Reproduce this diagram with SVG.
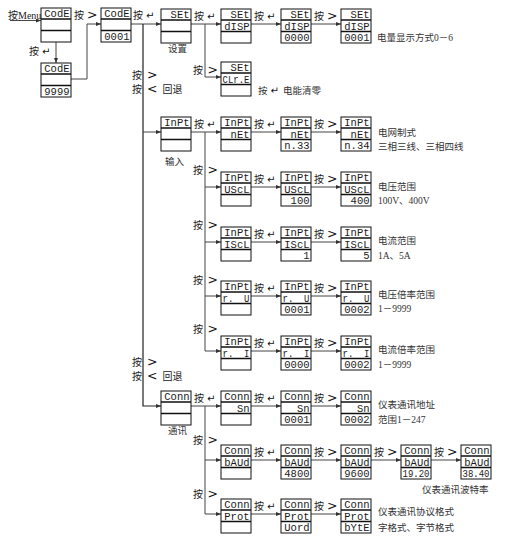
<svg xmlns="http://www.w3.org/2000/svg" width="522" height="538" viewBox="0 0 522 538">
<style>
.box{fill:#fff;stroke:#111;stroke-width:1}
.dv{fill:none;stroke:#111;stroke-width:1.3}
.seg{font-family:"Liberation Mono","DejaVu Sans Mono",monospace;font-size:10.5px;fill:#1a1a1a;text-anchor:end}
.lb{font-family:"Liberation Serif","Noto Sans CJK SC",serif;font-size:10px;fill:#222}
.nt{font-family:"Liberation Serif","Noto Sans CJK SC",serif;font-size:9.5px;fill:#333}
.gt{font-family:"DejaVu Sans",sans-serif;font-size:12.5px;fill:#111}
.ret{font-family:"DejaVu Sans",sans-serif;font-size:10px;fill:#111}
.cn{fill:none;stroke:#444;stroke-width:1}
.tr{fill:none;stroke:#222;stroke-width:1.2}
</style>
<defs>
<marker id="ah" markerWidth="5" markerHeight="4" refX="5" refY="2" orient="auto" markerUnits="userSpaceOnUse"><path d="M0,0 L5,2 L0,4 z" fill="#333"/></marker>
</defs>

<g id="connectors">
<path class="cn" d="M10 20.5H41" marker-end="url(#ah)"/>
<path class="cn" d="M56 42V63" marker-end="url(#ah)"/>
<path class="cn" d="M71 79H87V24H101" marker-end="url(#ah)"/>
<path class="cn" d="M131 24H161" marker-end="url(#ah)"/>
<path class="tr" d="M143 24V406H161" marker-end="url(#ah)"/>
<path class="cn" d="M143 132H161" marker-end="url(#ah)"/>
<path class="cn" d="M191 24H221" marker-end="url(#ah)"/>
<path class="cn" d="M251 24H281" marker-end="url(#ah)"/>
<path class="cn" d="M311 24H341" marker-end="url(#ah)"/>
<path class="cn" d="M205 24V77H221" marker-end="url(#ah)"/>
<path class="cn" d="M191 132H221" marker-end="url(#ah)"/>
<path class="cn" d="M251 132H281" marker-end="url(#ah)"/>
<path class="cn" d="M311 132H341" marker-end="url(#ah)"/>
<path class="cn" d="M205 132V351H221" marker-end="url(#ah)"/>
<path class="cn" d="M205 187H221" marker-end="url(#ah)"/>
<path class="cn" d="M205 242H221" marker-end="url(#ah)"/>
<path class="cn" d="M205 296H221" marker-end="url(#ah)"/>
<path class="cn" d="M251 187H281" marker-end="url(#ah)"/>
<path class="cn" d="M311 187H341" marker-end="url(#ah)"/>
<path class="cn" d="M251 242H281" marker-end="url(#ah)"/>
<path class="cn" d="M311 242H341" marker-end="url(#ah)"/>
<path class="cn" d="M251 296H281" marker-end="url(#ah)"/>
<path class="cn" d="M311 296H341" marker-end="url(#ah)"/>
<path class="cn" d="M251 351H281" marker-end="url(#ah)"/>
<path class="cn" d="M311 351H341" marker-end="url(#ah)"/>
<path class="cn" d="M191 406H221" marker-end="url(#ah)"/>
<path class="cn" d="M205 406V514H221" marker-end="url(#ah)"/>
<path class="cn" d="M205 460H221" marker-end="url(#ah)"/>
<path class="cn" d="M251 406H281" marker-end="url(#ah)"/>
<path class="cn" d="M311 406H341" marker-end="url(#ah)"/>
<path class="cn" d="M251 460H281" marker-end="url(#ah)"/>
<path class="cn" d="M311 460H341" marker-end="url(#ah)"/>
<path class="cn" d="M371 460H401" marker-end="url(#ah)"/>
<path class="cn" d="M431 460H461" marker-end="url(#ah)"/>
<path class="cn" d="M251 514H281" marker-end="url(#ah)"/>
<path class="cn" d="M311 514H341" marker-end="url(#ah)"/>
</g>

<g id="labels">
<text class="lb" x="8" y="18.5">按Menu</text>
<text class="lb" x="74" y="19">按<tspan class="gt" dx="3">&gt;</tspan></text>
<text class="lb" x="133" y="19">按<tspan class="ret" dx="3">↵</tspan></text>
<text class="lb" x="29" y="55">按<tspan class="ret" dx="3">↵</tspan></text>
<text class="lb" x="132" y="79">按<tspan class="gt" dx="5">&gt;</tspan></text>
<text class="lb" x="132" y="93">按<tspan class="gt" dx="5">&lt;</tspan><tspan dx="5">回退</tspan></text>
<text class="lb" x="132" y="366">按<tspan class="gt" dx="5">&gt;</tspan></text>
<text class="lb" x="132" y="380">按<tspan class="gt" dx="5">&lt;</tspan><tspan dx="5">回退</tspan></text>
<text class="lb" x="194" y="19.5">按<tspan class="ret" dx="3">↵</tspan></text>
<text class="lb" x="254" y="19.5">按<tspan class="ret" dx="3">↵</tspan></text>
<text class="lb" x="314" y="19.5">按<tspan class="gt" dx="3">&gt;</tspan></text>
<text class="lb" x="193" y="74">按<tspan class="gt" dx="4.5">&gt;</tspan></text>
<text class="lb" x="194" y="128">按<tspan class="ret" dx="3">↵</tspan></text>
<text class="lb" x="254" y="128">按<tspan class="ret" dx="3">↵</tspan></text>
<text class="lb" x="314" y="128">按<tspan class="gt" dx="3">&gt;</tspan></text>
<text class="lb" x="193" y="174">按<tspan class="gt" dx="4.5">&gt;</tspan></text>
<text class="lb" x="254" y="183">按<tspan class="ret" dx="3">↵</tspan></text>
<text class="lb" x="314" y="183">按<tspan class="gt" dx="3">&gt;</tspan></text>
<text class="lb" x="193" y="229">按<tspan class="gt" dx="4.5">&gt;</tspan></text>
<text class="lb" x="254" y="238">按<tspan class="ret" dx="3">↵</tspan></text>
<text class="lb" x="314" y="238">按<tspan class="gt" dx="3">&gt;</tspan></text>
<text class="lb" x="193" y="284">按<tspan class="gt" dx="4.5">&gt;</tspan></text>
<text class="lb" x="254" y="292">按<tspan class="ret" dx="3">↵</tspan></text>
<text class="lb" x="314" y="292">按<tspan class="gt" dx="3">&gt;</tspan></text>
<text class="lb" x="193" y="333">按<tspan class="gt" dx="4.5">&gt;</tspan></text>
<text class="lb" x="254" y="347">按<tspan class="ret" dx="3">↵</tspan></text>
<text class="lb" x="314" y="347">按<tspan class="gt" dx="3">&gt;</tspan></text>
<text class="lb" x="194" y="402">按<tspan class="ret" dx="3">↵</tspan></text>
<text class="lb" x="254" y="402">按<tspan class="ret" dx="3">↵</tspan></text>
<text class="lb" x="314" y="402">按<tspan class="gt" dx="3">&gt;</tspan></text>
<text class="lb" x="193" y="444">按<tspan class="gt" dx="4.5">&gt;</tspan></text>
<text class="lb" x="254" y="456">按<tspan class="ret" dx="3">↵</tspan></text>
<text class="lb" x="314" y="456">按<tspan class="gt" dx="3">&gt;</tspan></text>
<text class="lb" x="374" y="456">按<tspan class="gt" dx="3">&gt;</tspan></text>
<text class="lb" x="434" y="456">按<tspan class="gt" dx="3">&gt;</tspan></text>
<text class="lb" x="193" y="498">按<tspan class="gt" dx="4.5">&gt;</tspan></text>
<text class="lb" x="254" y="510">按<tspan class="ret" dx="3">↵</tspan></text>
<text class="lb" x="314" y="510">按<tspan class="gt" dx="3">&gt;</tspan></text>
</g>

<g id="notes">
<text class="nt" x="168" y="52">设置</text>
<text class="nt" x="165" y="165">输入</text>
<text class="nt" x="168" y="434">通讯</text>
<text class="nt" x="377" y="40.5">电量显示方式0－6</text>
<text class="nt" x="258" y="93.5">按<tspan class="ret" dx="3">↵</tspan><tspan dx="4">电能清零</tspan></text>
<text class="nt" x="378" y="136">电网制式</text>
<text class="nt" x="378" y="150">三相三线、三相四线</text>
<text class="nt" x="378" y="190">电压范围</text>
<text class="nt" x="378" y="204">100V、400V</text>
<text class="nt" x="378" y="244">电流范围</text>
<text class="nt" x="378" y="258.5">1A、5A</text>
<text class="nt" x="378" y="297.5">电压倍率范围</text>
<text class="nt" x="378" y="312">1－9999</text>
<text class="nt" x="378" y="353">电流倍率范围</text>
<text class="nt" x="378" y="368">1－9999</text>
<text class="nt" x="378" y="408">仪表通讯地址</text>
<text class="nt" x="378" y="422.5">范围1－247</text>
<text class="nt" x="422" y="492.5">仪表通讯波特率</text>
<text class="nt" x="378" y="515">仪表通讯协议格式</text>
<text class="nt" x="378" y="531">字格式、字节格式</text>
</g>

<g id="n_code1" transform="translate(41,8)"><rect class="box" width="30" height="34"/><path class="dv" d="M0 11H30M0 22.5H30"/><text class="seg" x="28.5" y="9">CodE</text></g>
<g id="n_code9999" transform="translate(41,63)"><rect class="box" width="30" height="34"/><path class="dv" d="M0 11H30M0 22.5H30"/><text class="seg" x="28.5" y="9">CodE</text><text class="seg" x="28.5" y="32">9999</text></g>
<g id="n_code0001" transform="translate(101,8)"><rect class="box" width="30" height="34"/><path class="dv" d="M0 11H30M0 22.5H30"/><text class="seg" x="28.5" y="9">CodE</text><text class="seg" x="28.5" y="32">0001</text></g>

<g id="n_set" transform="translate(161,9)"><rect class="box" width="30" height="34"/><path class="dv" d="M0 11H30M0 22.5H30"/><text class="seg" x="28.5" y="9">SEt</text></g>
<g id="n_set_disp" transform="translate(221,9)"><rect class="box" width="30" height="34"/><path class="dv" d="M0 11H30M0 22.5H30"/><text class="seg" x="28.5" y="9">SEt</text><text class="seg" x="28.5" y="20.5">dISP</text></g>
<g id="n_set_disp0" transform="translate(281,9)"><rect class="box" width="30" height="34"/><path class="dv" d="M0 11H30M0 22.5H30"/><text class="seg" x="28.5" y="9">SEt</text><text class="seg" x="28.5" y="20.5">dISP</text><text class="seg" x="28.5" y="32">0000</text></g>
<g id="n_set_disp1" transform="translate(341,9)"><rect class="box" width="30" height="34"/><path class="dv" d="M0 11H30M0 22.5H30"/><text class="seg" x="28.5" y="9">SEt</text><text class="seg" x="28.5" y="20.5">dISP</text><text class="seg" x="28.5" y="32">0001</text></g>
<g id="n_clre" transform="translate(221,62)"><rect class="box" width="30" height="34"/><path class="dv" d="M0 11H30M0 22.5H30"/><text class="seg" x="28.5" y="9">SEt</text><text class="seg" x="28.5" y="20.5" textLength="27" lengthAdjust="spacingAndGlyphs">CLr.E</text></g>

<g id="n_inpt" transform="translate(161,117)"><rect class="box" width="30" height="34"/><path class="dv" d="M0 11H30M0 22.5H30"/><text class="seg" x="28.5" y="9">InPt</text></g>
<g id="n_net" transform="translate(221,117)"><rect class="box" width="30" height="34"/><path class="dv" d="M0 11H30M0 22.5H30"/><text class="seg" x="28.5" y="9">InPt</text><text class="seg" x="28.5" y="20.5">nEt</text></g>
<g id="n_net33" transform="translate(281,117)"><rect class="box" width="30" height="34"/><path class="dv" d="M0 11H30M0 22.5H30"/><text class="seg" x="28.5" y="9">InPt</text><text class="seg" x="28.5" y="20.5">nEt</text><text class="seg" x="28.5" y="32">n.33</text></g>
<g id="n_net34" transform="translate(341,117)"><rect class="box" width="30" height="34"/><path class="dv" d="M0 11H30M0 22.5H30"/><text class="seg" x="28.5" y="9">InPt</text><text class="seg" x="28.5" y="20.5">nEt</text><text class="seg" x="28.5" y="32">n.34</text></g>

<g id="n_uscl" transform="translate(221,172)"><rect class="box" width="30" height="34"/><path class="dv" d="M0 11H30M0 22.5H30"/><text class="seg" x="28.5" y="9">InPt</text><text class="seg" x="28.5" y="20.5">UScL</text></g>
<g id="n_uscl100" transform="translate(281,172)"><rect class="box" width="30" height="34"/><path class="dv" d="M0 11H30M0 22.5H30"/><text class="seg" x="28.5" y="9">InPt</text><text class="seg" x="28.5" y="20.5">UScL</text><text class="seg" x="28.5" y="32">100</text></g>
<g id="n_uscl400" transform="translate(341,172)"><rect class="box" width="30" height="34"/><path class="dv" d="M0 11H30M0 22.5H30"/><text class="seg" x="28.5" y="9">InPt</text><text class="seg" x="28.5" y="20.5">UScL</text><text class="seg" x="28.5" y="32">400</text></g>

<g id="n_iscl" transform="translate(221,227)"><rect class="box" width="30" height="34"/><path class="dv" d="M0 11H30M0 22.5H30"/><text class="seg" x="28.5" y="9">InPt</text><text class="seg" x="28.5" y="20.5">IScL</text></g>
<g id="n_iscl1" transform="translate(281,227)"><rect class="box" width="30" height="34"/><path class="dv" d="M0 11H30M0 22.5H30"/><text class="seg" x="28.5" y="9">InPt</text><text class="seg" x="28.5" y="20.5">IScL</text><text class="seg" x="28.5" y="32">1</text></g>
<g id="n_iscl5" transform="translate(341,227)"><rect class="box" width="30" height="34"/><path class="dv" d="M0 11H30M0 22.5H30"/><text class="seg" x="28.5" y="9">InPt</text><text class="seg" x="28.5" y="20.5">IScL</text><text class="seg" x="28.5" y="32">5</text></g>

<g id="n_ru" transform="translate(221,281)"><rect class="box" width="30" height="34"/><path class="dv" d="M0 11H30M0 22.5H30"/><text class="seg" x="28.5" y="9">InPt</text><text class="seg" x="28.5" y="20.5" textLength="27" lengthAdjust="spacingAndGlyphs" xml:space="preserve">r.  U</text></g>
<g id="n_ru1" transform="translate(281,281)"><rect class="box" width="30" height="34"/><path class="dv" d="M0 11H30M0 22.5H30"/><text class="seg" x="28.5" y="9">InPt</text><text class="seg" x="28.5" y="20.5" textLength="27" lengthAdjust="spacingAndGlyphs" xml:space="preserve">r.  U</text><text class="seg" x="28.5" y="32">0001</text></g>
<g id="n_ru2" transform="translate(341,281)"><rect class="box" width="30" height="34"/><path class="dv" d="M0 11H30M0 22.5H30"/><text class="seg" x="28.5" y="9">InPt</text><text class="seg" x="28.5" y="20.5" textLength="27" lengthAdjust="spacingAndGlyphs" xml:space="preserve">r.  U</text><text class="seg" x="28.5" y="32">0002</text></g>

<g id="n_ri" transform="translate(221,336)"><rect class="box" width="30" height="34"/><path class="dv" d="M0 11H30M0 22.5H30"/><text class="seg" x="28.5" y="9">InPt</text><text class="seg" x="28.5" y="20.5" textLength="27" lengthAdjust="spacingAndGlyphs" xml:space="preserve">r.  I</text></g>
<g id="n_ri0" transform="translate(281,336)"><rect class="box" width="30" height="34"/><path class="dv" d="M0 11H30M0 22.5H30"/><text class="seg" x="28.5" y="9">InPt</text><text class="seg" x="28.5" y="20.5" textLength="27" lengthAdjust="spacingAndGlyphs" xml:space="preserve">r.  I</text><text class="seg" x="28.5" y="32">0000</text></g>
<g id="n_ri2" transform="translate(341,336)"><rect class="box" width="30" height="34"/><path class="dv" d="M0 11H30M0 22.5H30"/><text class="seg" x="28.5" y="9">InPt</text><text class="seg" x="28.5" y="20.5" textLength="27" lengthAdjust="spacingAndGlyphs" xml:space="preserve">r.  I</text><text class="seg" x="28.5" y="32">0002</text></g>

<g id="n_conn" transform="translate(161,391)"><rect class="box" width="30" height="34"/><path class="dv" d="M0 11H30M0 22.5H30"/><text class="seg" x="28.5" y="9">Conn</text></g>
<g id="n_sn" transform="translate(221,391)"><rect class="box" width="30" height="34"/><path class="dv" d="M0 11H30M0 22.5H30"/><text class="seg" x="28.5" y="9">Conn</text><text class="seg" x="28.5" y="20.5">Sn</text></g>
<g id="n_sn1" transform="translate(281,391)"><rect class="box" width="30" height="34"/><path class="dv" d="M0 11H30M0 22.5H30"/><text class="seg" x="28.5" y="9">Conn</text><text class="seg" x="28.5" y="20.5">Sn</text><text class="seg" x="28.5" y="32">0001</text></g>
<g id="n_sn2" transform="translate(341,391)"><rect class="box" width="30" height="34"/><path class="dv" d="M0 11H30M0 22.5H30"/><text class="seg" x="28.5" y="9">Conn</text><text class="seg" x="28.5" y="20.5">Sn</text><text class="seg" x="28.5" y="32">0002</text></g>

<g id="n_baud" transform="translate(221,445)"><rect class="box" width="30" height="34"/><path class="dv" d="M0 11H30M0 22.5H30"/><text class="seg" x="28.5" y="9">Conn</text><text class="seg" x="28.5" y="20.5">bAUd</text></g>
<g id="n_baud48" transform="translate(281,445)"><rect class="box" width="30" height="34"/><path class="dv" d="M0 11H30M0 22.5H30"/><text class="seg" x="28.5" y="9">Conn</text><text class="seg" x="28.5" y="20.5">bAUd</text><text class="seg" x="28.5" y="32">4800</text></g>
<g id="n_baud96" transform="translate(341,445)"><rect class="box" width="30" height="34"/><path class="dv" d="M0 11H30M0 22.5H30"/><text class="seg" x="28.5" y="9">Conn</text><text class="seg" x="28.5" y="20.5">bAUd</text><text class="seg" x="28.5" y="32">9600</text></g>
<g id="n_baud192" transform="translate(401,445)"><rect class="box" width="30" height="34"/><path class="dv" d="M0 11H30M0 22.5H30"/><text class="seg" x="28.5" y="9">Conn</text><text class="seg" x="28.5" y="20.5">bAUd</text><text class="seg" x="28.5" y="32" textLength="27" lengthAdjust="spacingAndGlyphs">19.20</text></g>
<g id="n_baud384" transform="translate(461,445)"><rect class="box" width="30" height="34"/><path class="dv" d="M0 11H30M0 22.5H30"/><text class="seg" x="28.5" y="9">Conn</text><text class="seg" x="28.5" y="20.5">bAUd</text><text class="seg" x="28.5" y="32" textLength="27" lengthAdjust="spacingAndGlyphs">38.40</text></g>

<g id="n_prot" transform="translate(221,499)"><rect class="box" width="30" height="34"/><path class="dv" d="M0 11H30M0 22.5H30"/><text class="seg" x="28.5" y="9">Conn</text><text class="seg" x="28.5" y="20.5">Prot</text></g>
<g id="n_word" transform="translate(281,499)"><rect class="box" width="30" height="34"/><path class="dv" d="M0 11H30M0 22.5H30"/><text class="seg" x="28.5" y="9">Conn</text><text class="seg" x="28.5" y="20.5">Prot</text><text class="seg" x="28.5" y="32">Uord</text></g>
<g id="n_byte" transform="translate(341,499)"><rect class="box" width="30" height="34"/><path class="dv" d="M0 11H30M0 22.5H30"/><text class="seg" x="28.5" y="9">Conn</text><text class="seg" x="28.5" y="20.5">Prot</text><text class="seg" x="28.5" y="32">bYtE</text></g>
</svg>
